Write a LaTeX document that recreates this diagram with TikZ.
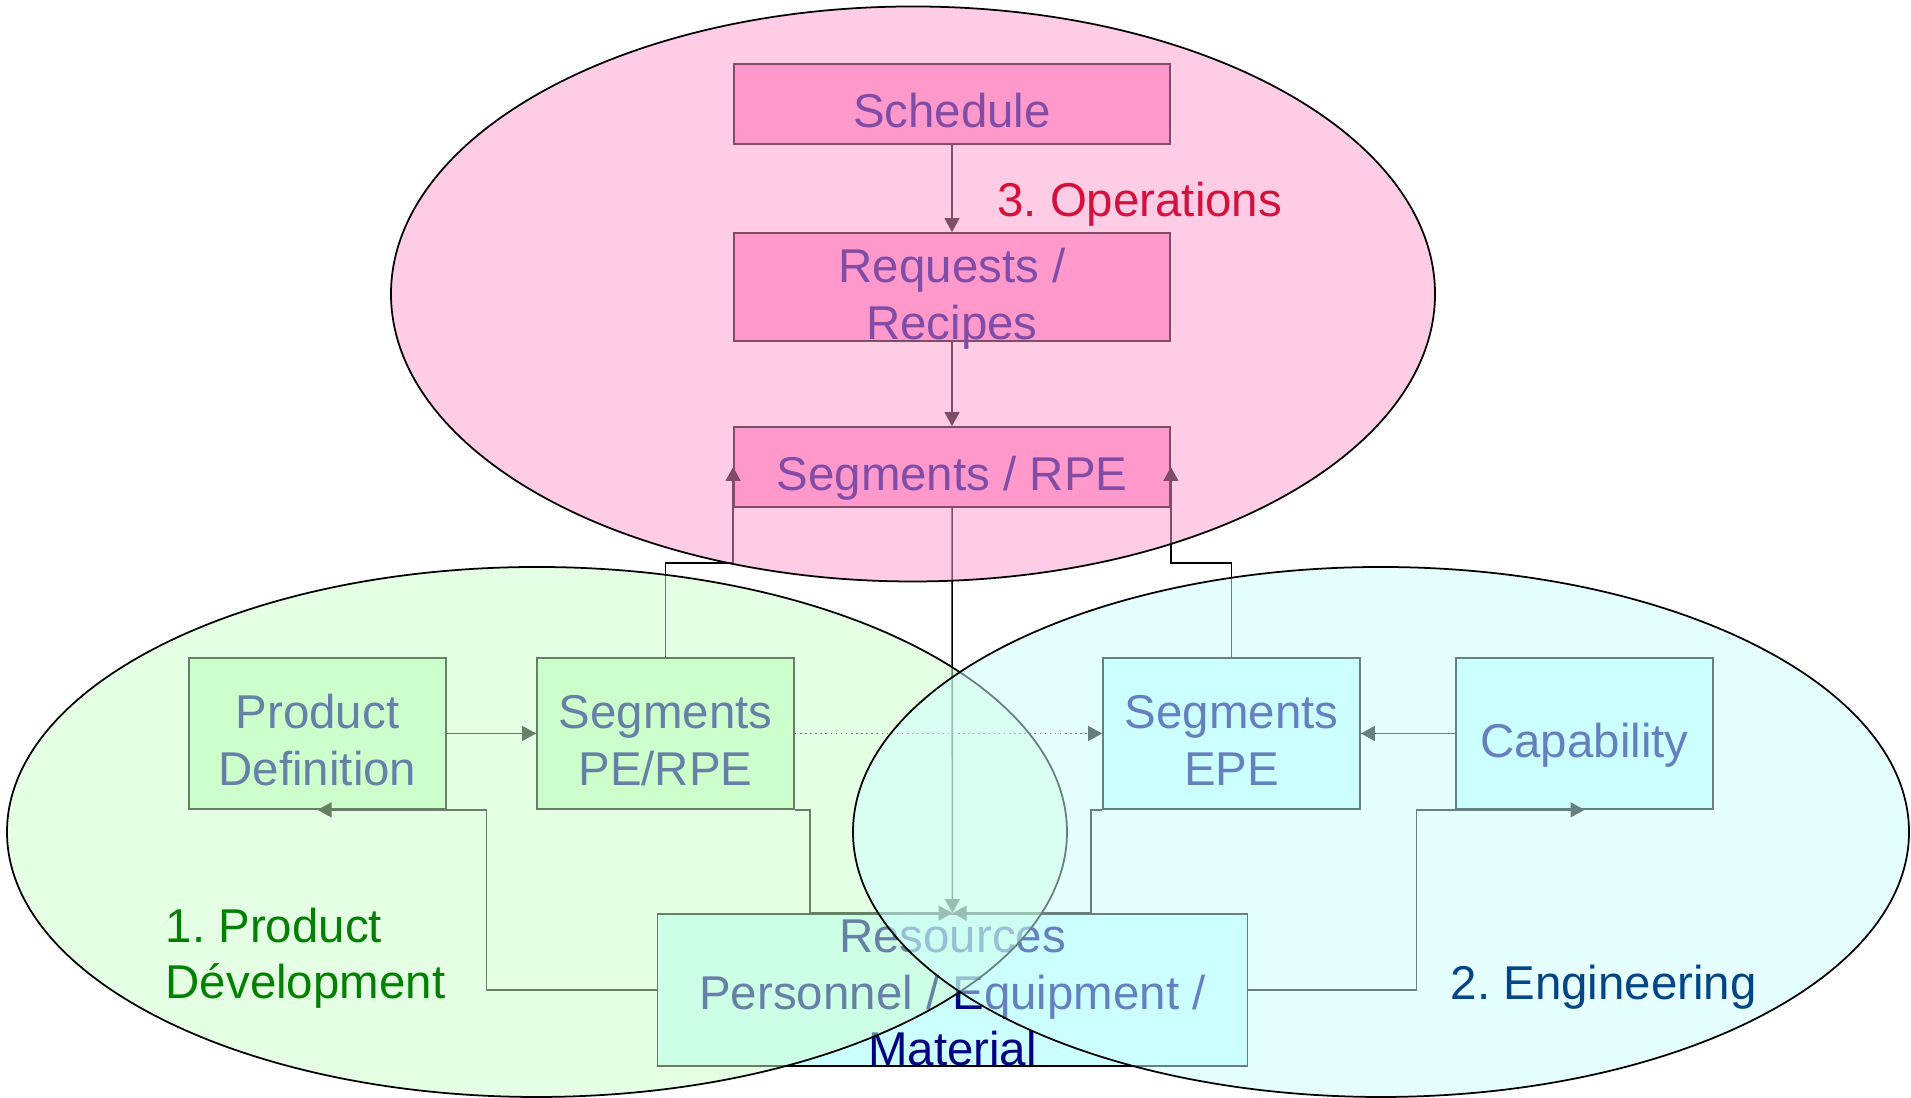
\documentclass[tikz,border=0pt]{standalone}
\usepackage{fontspec}
\setmainfont{Liberation Sans}
\usepackage{tikz}
\usetikzlibrary{arrows.meta}
\usepackage{xcolor}
\definecolor{opspink}{HTML}{FF99CC}
\definecolor{prodgreen}{HTML}{CCFFCC}
\definecolor{engcyan}{HTML}{CCFFFF}
\definecolor{boxtext}{HTML}{000080}
\definecolor{opslabel}{HTML}{D4103C}
\definecolor{prodlabel}{HTML}{008000}
\definecolor{englabel}{HTML}{004586}
\frenchspacing

\begin{document}
\begin{tikzpicture}[
  font=\fontsize{13.5pt}{16.2pt}\selectfont,
  >={Triangle[width=1.5mm,length=1.4mm]},
  block/.style={draw=black, line width=0.5pt, inner sep=0pt, align=center,
    text=boxtext, text height=4.75mm, text depth=0pt},
  twolines/.style={text height=10.45mm, text depth=0pt},
  threelines/.style={text height=15.2mm, text depth=-0.95mm},
  flow/.style={->, line width=0.45pt},
  area/.style={draw=black, line width=0.5pt, fill opacity=0.5},
  arealabel/.style={anchor=base west, align=left, inner sep=0pt}
]
\useasboundingbox (0,0) rectangle (19.11,10.98);

% Operations boxes
\node[block, fill=opspink, minimum width=4.36cm, minimum height=0.80cm] (sched) at (9.52,9.94) {Schedule};
\node[block, twolines, fill=opspink, minimum width=4.36cm, minimum height=1.08cm] (req) at (9.52,8.11) {Requests /\\Recipes};
\node[block, fill=opspink, minimum width=4.36cm, minimum height=0.80cm] (segrpe) at (9.52,6.31) {Segments / RPE};

% Product and engineering boxes
\node[block, twolines, fill=prodgreen, minimum width=2.57cm, minimum height=1.51cm] (pd) at (3.175,3.645) {Product\\Definition};
\node[block, twolines, fill=prodgreen, minimum width=2.57cm, minimum height=1.51cm] (segpe) at (6.655,3.645) {Segments\\PE/RPE};
\node[block, twolines, fill=engcyan, minimum width=2.57cm, minimum height=1.51cm] (epe) at (12.315,3.645) {Segments\\EPE};
\node[block, fill=engcyan, minimum width=2.57cm, minimum height=1.51cm] (cap) at (15.845,3.645) {Capability};

% Resources
\node[block, threelines, fill=engcyan, minimum width=5.90cm, minimum height=1.52cm] (res) at (9.525,1.08) {Resources\\Personnel / Equipment /\\Material};

% Flows
\draw[flow] (sched) -- (req);
\draw[flow] (req) -- (segrpe);
\draw[flow] (segrpe) -- (res);
\draw[flow] (segpe.north) |- ([yshift=-5.5mm]segrpe.south west) -- (segrpe.west);
\draw[flow] (epe.north) |- ([yshift=-5.5mm]segrpe.south east) -- (segrpe.east);
\draw[flow] (pd) -- (segpe);
\draw[flow] (cap) -- (epe);
\draw[flow, densely dotted] (segpe) -- (epe);
\draw[flow] (res.west) -- ++(-1.70,0) |- (pd.south);
\draw[flow] (res.east) -- ++(1.68,0) |- (cap.south);
\draw[flow] (segpe.south east) -- ++(0.15,0) |- (res.north);
\draw[flow] (epe.south west) -- ++(-0.11,0) |- (res.north);

% Areas
\draw[area, fill=opspink] (9.13,8.04) ellipse (5.22 and 2.875);
\draw[area, fill=prodgreen] (5.37,2.66) ellipse (5.30 and 2.65);
\draw[area, fill=engcyan] (13.81,2.66) ellipse (5.28 and 2.65);

% Area labels
\node[arealabel, text=opslabel] (opslbl) at (9.966,8.81) {3. Operations};
\node[arealabel, text=prodlabel] (prodlbl) at (1.65,0.99) {1. Product\\Dévelopment};
\node[arealabel, text=englabel] (englbl) at (14.50,0.98) {2. Engineering};
\end{tikzpicture}
\end{document}
